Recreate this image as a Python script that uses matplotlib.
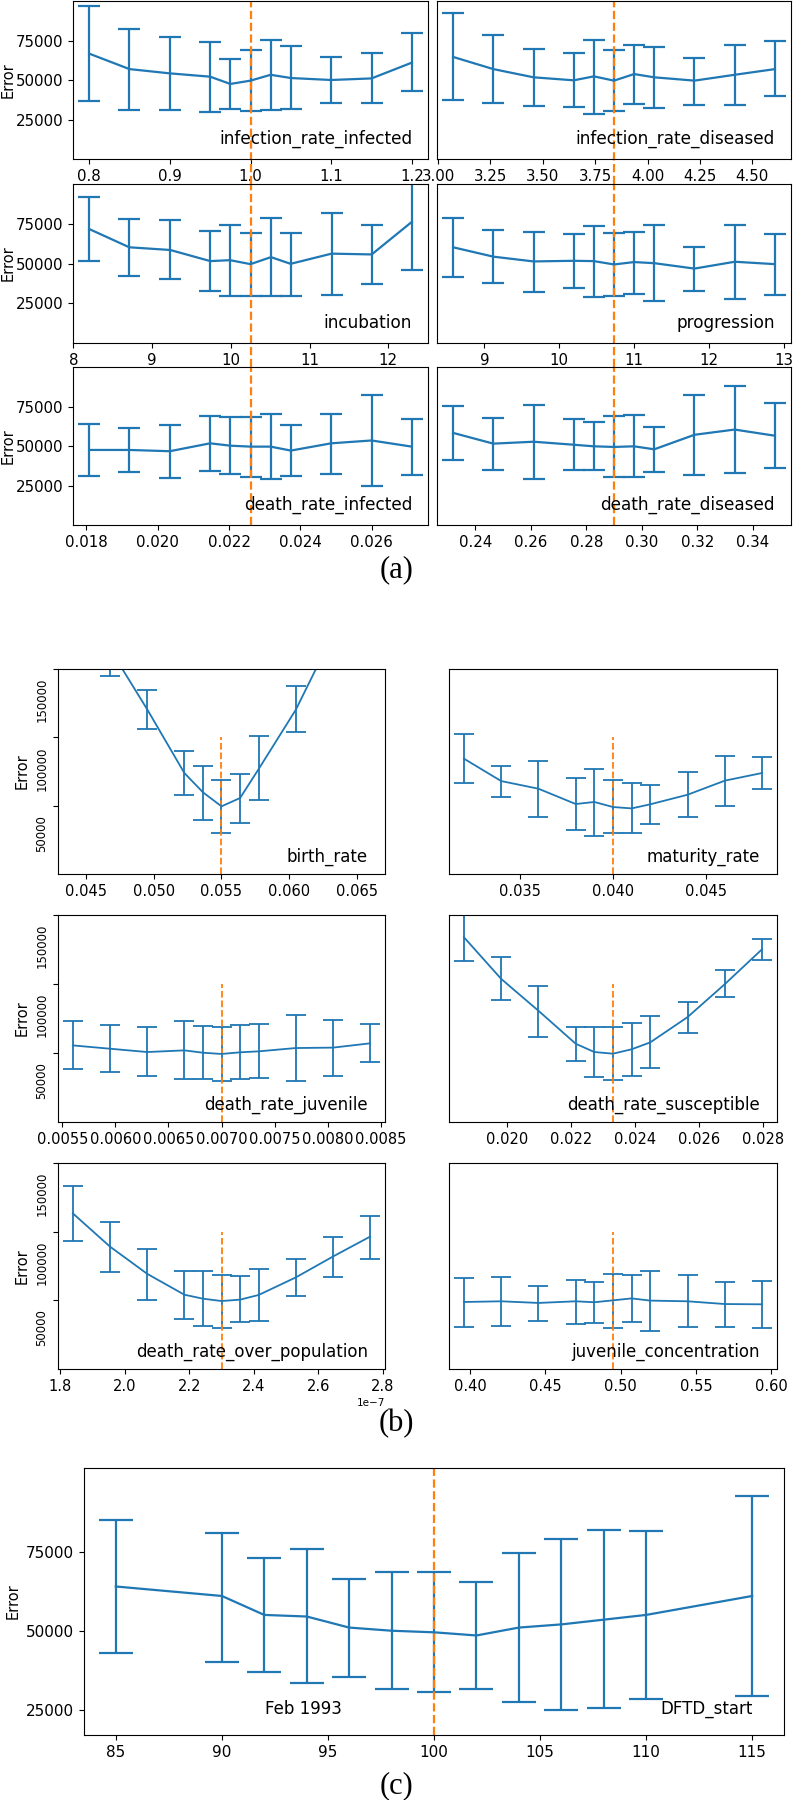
import matplotlib
matplotlib.use("Agg")
import matplotlib.pyplot as plt
import numpy as np
from matplotlib.transforms import ScaledTranslation

plt.rcParams["font.family"] = ["DejaVu Sans"]

W, H = 793, 1800
BLUE = "#1f77b4"
ORANGE = "#ff7f0e"

# ---------------- (a) parameter sweeps ----------------
a_names = ["infection_rate_infected", "infection_rate_diseased",
           "incubation", "progression",
           "death_rate_infected", "death_rate_diseased"]
a_default = [1.0, 3.84, 10.25, 10.73, 0.0226, 0.29]
a_x = [
    [0.8, 0.85, 0.9, 0.95, 0.975, 1.0, 1.025, 1.05, 1.1, 1.15, 1.2],
    [3.072, 3.264, 3.456, 3.648, 3.744, 3.84, 3.936, 4.032, 4.224, 4.416, 4.608],
    [8.2, 8.71, 9.23, 9.74, 9.99, 10.25, 10.51, 10.76, 11.28, 11.79, 12.3],
    [8.584, 9.121, 9.657, 10.194, 10.462, 10.73, 10.998, 11.267, 11.803, 12.34, 12.876],
    [0.01808, 0.01921, 0.02034, 0.02147, 0.022035, 0.0226, 0.023165, 0.02373, 0.02486, 0.02599, 0.02712],
    [0.232, 0.2465, 0.261, 0.2755, 0.28275, 0.29, 0.29725, 0.3045, 0.319, 0.3335, 0.348],
]
a_mean = [
    [66700, 56900, 54200, 52100, 47500, 49600, 53300, 51250, 50000, 51000, 61000],
    [64600, 56900, 51700, 49800, 52300, 49600, 53750, 51700, 49600, 53300, 56900],
    [71700, 60200, 58500, 51500, 52100, 49600, 54000, 49800, 56200, 55700, 76200],
    [60200, 54300, 51300, 51700, 51500, 49400, 50900, 50200, 46800, 51100, 49600],
    [47500, 47500, 46700, 51700, 50200, 49600, 49600, 47100, 51700, 53500, 49600],
    [58300, 51500, 52700, 50800, 49800, 49400, 49800, 47900, 57100, 60400, 56500],
]
a_high = [
    [96900, 82500, 77500, 74200, 63500, 68750, 75200, 71500, 64600, 67000, 79600],
    [92700, 78500, 69800, 67100, 75400, 68750, 71900, 70800, 64200, 71900, 74400],
    [91700, 78100, 77200, 70200, 74300, 68900, 78500, 69400, 81900, 74500, 106000],
    [78700, 70900, 70000, 68300, 73800, 69200, 69800, 74000, 60600, 74500, 68700],
    [64000, 61500, 63300, 68750, 68300, 68300, 70200, 63100, 70200, 82500, 67300],
    [75600, 67900, 76000, 67300, 65200, 68750, 69600, 62100, 82500, 87900, 77300],
]
a_low = [
    [36500, 31250, 31250, 29800, 31700, 30600, 31250, 31900, 35400, 35200, 43000],
    [37100, 35400, 33750, 32700, 28750, 30600, 35000, 32300, 34400, 34400, 39600],
    [51700, 41900, 40200, 32800, 29800, 29800, 29600, 29600, 30200, 37000, 45700],
    [41700, 37900, 31900, 34700, 28700, 29800, 31100, 26200, 33000, 27400, 30000],
    [31250, 33300, 29600, 34200, 32100, 30400, 29400, 30800, 32500, 24600, 31900],
    [41250, 34800, 29200, 34800, 34800, 30400, 30200, 33300, 31500, 32900, 35800],
]

# ---------------- (b) parameter sweeps ----------------
b_names = ["birth_rate", "maturity_rate",
           "death_rate_juvenile", "death_rate_susceptible",
           "death_rate_over_population", "juvenile_concentration"]
b_default = [0.055, 0.04, 0.007, 0.0233, 2.3e-7, 0.495]
b_x = [
    [0.044, 0.04675, 0.0495, 0.05225, 0.053625, 0.055, 0.056375, 0.05775, 0.0605, 0.06325, 0.066],
    [0.032, 0.034, 0.036, 0.038, 0.039, 0.04, 0.041, 0.042, 0.044, 0.046, 0.048],
    [0.0056, 0.00595, 0.0063, 0.00665, 0.006825, 0.007, 0.007175, 0.00735, 0.0077, 0.00805, 0.0084],
    [0.01864, 0.019805, 0.02097, 0.022135, 0.0227175, 0.0233, 0.0238825, 0.024465, 0.02563, 0.026795, 0.02796],
    [1.84e-7, 1.955e-7, 2.07e-7, 2.185e-7, 2.2425e-7, 2.3e-7, 2.3575e-7, 2.415e-7, 2.53e-7, 2.645e-7, 2.76e-7],
    [0.396, 0.42075, 0.4455, 0.47025, 0.482625, 0.495, 0.507375, 0.51975, 0.5445, 0.56925, 0.594],
]
b_mean = [
    [215000, 164600, 120500, 73900, 59800, 49500, 55600, 76800, 120200, 175200, 230000],
    [84400, 68000, 62400, 51200, 52700, 49000, 48000, 51000, 58000, 68300, 73900],
    [55500, 53100, 50700, 51900, 50200, 49300, 50500, 51200, 53600, 53900, 57000],
    [133900, 103700, 80600, 56700, 50700, 49500, 52700, 57700, 76000, 99900, 125200],
    [113300, 89100, 69300, 54100, 51200, 49500, 50500, 53900, 66700, 81900, 96400],
    [48800, 49300, 48100, 49300, 48600, 50000, 51400, 49800, 49300, 47300, 47100],
]
b_high = [
    [240000, 185000, 134900, 89800, 78800, 68500, 72900, 101000, 137800, 195000, 255000],
    [102700, 78800, 82700, 70200, 76800, 68500, 66600, 65400, 74400, 86600, 85400],
    [72900, 70500, 68600, 72900, 69300, 68600, 70500, 71000, 77200, 73600, 71000],
    [165000, 119400, 98700, 69000, 68600, 68600, 71700, 76500, 87100, 109800, 132900],
    [133300, 107000, 87400, 71700, 71700, 68800, 67400, 72700, 80200, 95900, 111300],
    [66200, 66700, 60400, 65000, 63500, 69100, 68100, 71700, 68100, 63000, 63800],
]
b_low = [
    [190000, 145000, 106100, 58000, 39800, 30000, 37600, 53900, 104100, 155000, 205000],
    [66600, 56300, 41700, 32000, 28000, 30000, 30000, 36800, 41500, 50000, 62200],
    [38400, 36000, 33600, 31400, 31200, 30000, 31200, 31700, 29800, 33600, 43300],
    [117000, 88300, 61600, 44200, 32600, 30200, 33100, 38900, 64500, 90700, 117700],
    [93500, 70500, 50500, 36500, 31200, 30200, 34300, 34800, 52900, 66700, 80400],
    [30900, 31200, 35300, 33100, 33600, 30200, 34500, 27500, 30400, 30900, 30000],
]

# ---------------- (c) DFTD start sweep ----------------
c_x = [85, 90, 92, 94, 96, 98, 100, 102, 104, 106, 108, 110, 115]
c_mean = [64000, 61000, 55000, 54500, 51000, 50000, 49500, 48500, 51000, 52000, 53500, 55000, 61000]
c_high = [85000, 81000, 73000, 76000, 66500, 68500, 68500, 65500, 74500, 79000, 82000, 81500, 92500]
c_low = [43000, 40000, 37000, 33500, 35500, 31500, 30500, 31500, 27500, 25000, 25500, 28500, 29500]
c_default = 100


def box(x0, y0, x1, y1):
    return [x0 / W, 1 - y1 / H, (x1 - x0) / W, (y1 - y0) / H]


def sweep(ax, x, mean, high, low, lw, cap, fs):
    mean = np.array(mean)
    yerr = [mean - np.array(low), np.array(high) - mean]
    ax.errorbar(x, mean, yerr=yerr, color=BLUE, lw=lw, elinewidth=lw,
                capsize=cap, capthick=lw)
    ax.tick_params(labelsize=fs)


fig = plt.figure(figsize=(W / 100, H / 100), dpi=100)

# ---- (a) ----
a_cols = [(73, 428), (437, 791)]
a_rows = [(1, 159), (184, 343), (367, 525)]
for i, name in enumerate(a_names):
    r, c = divmod(i, 2)
    x0, x1 = a_cols[c]
    y0, y1 = a_rows[r]
    ax = fig.add_axes(box(x0, y0, x1, y1))
    sweep(ax, a_x[i], a_mean[i], a_high[i], a_low[i], 1.6, 8, 10.8)
    ax.set_ylim(0, 100000)
    if c == 0:
        ax.set_yticks([25000, 50000, 75000])
        ax.set_ylabel("Error", fontsize=10.5, labelpad=0)
    else:
        ax.set_yticks([])
    # dashed marker of the calibrated value, running down through the gap
    gap = 0 if r == 2 else (a_rows[r + 1][0] - y1) / (y1 - y0)
    ax.axvline(a_default[i], ymin=-gap, ymax=1, color=ORANGE, ls="--",
               lw=1.6, clip_on=False)
    ax.text(0.955, 0.095, name, transform=ax.transAxes, ha="right",
            va="baseline", fontsize=12.2)

fig.text(0.5, 1 - 570 / H, "(a)", ha="center", va="center",
         fontsize=22, family="Liberation Serif")

# ---- (b) ----
b_cols = [(58, 385), (449, 777)]
b_rows = [(669, 874), (915, 1122), (1163, 1369)]
shift = ScaledTranslation(0, -0.09, fig.dpi_scale_trans)
for i, name in enumerate(b_names):
    r, c = divmod(i, 2)
    x0, x1 = b_cols[c]
    y0, y1 = b_rows[r]
    ax = fig.add_axes(box(x0, y0, x1, y1))
    sweep(ax, b_x[i], b_mean[i], b_high[i], b_low[i], 1.3, 7, 10.5)
    ax.set_ylim(0, 150000)
    if c == 0:
        ax.set_yticks([50000, 100000, 150000])
        for lbl in ax.get_yticklabels():
            lbl.set_rotation(90)
            lbl.set_va("top")
            lbl.set_fontsize(8.5)
            lbl.set_transform(lbl.get_transform() + shift)
        ax.set_ylabel("Error", fontsize=10.5, labelpad=4)
    else:
        ax.set_yticks([])
    ax.vlines(b_default[i], 0, 100000, color=ORANGE, ls="--", lw=1.3)
    ax.text(0.948, 0.06, name, transform=ax.transAxes, ha="right",
            va="baseline", fontsize=12)
    ax.xaxis.get_offset_text().set_fontsize(7.5)

fig.text(0.5, 1 - 1424 / H, "(b)", ha="center", va="center",
         fontsize=22, family="Liberation Serif")

# ---- (c) ----
ax = fig.add_axes(box(84, 1468, 784, 1735))
sweep(ax, c_x, c_mean, c_high, c_low, 1.6, 12, 11)
ax.set_ylim(17000, 101500)
ax.set_yticks([25000, 50000, 75000])
ax.set_ylabel("Error", fontsize=10.5)
ax.axvline(c_default, color=ORANGE, ls="--", lw=1.6)
ax.text(0.314, 0.08, "Feb 1993", transform=ax.transAxes, ha="center",
        va="baseline", fontsize=12)
ax.text(0.955, 0.08, "DFTD_start", transform=ax.transAxes, ha="right",
        va="baseline", fontsize=12)

fig.text(0.5, 1 - 1786 / H, "(c)", ha="center", va="center",
         fontsize=22, family="Liberation Serif")

fig.savefig("out.png", dpi=100)
